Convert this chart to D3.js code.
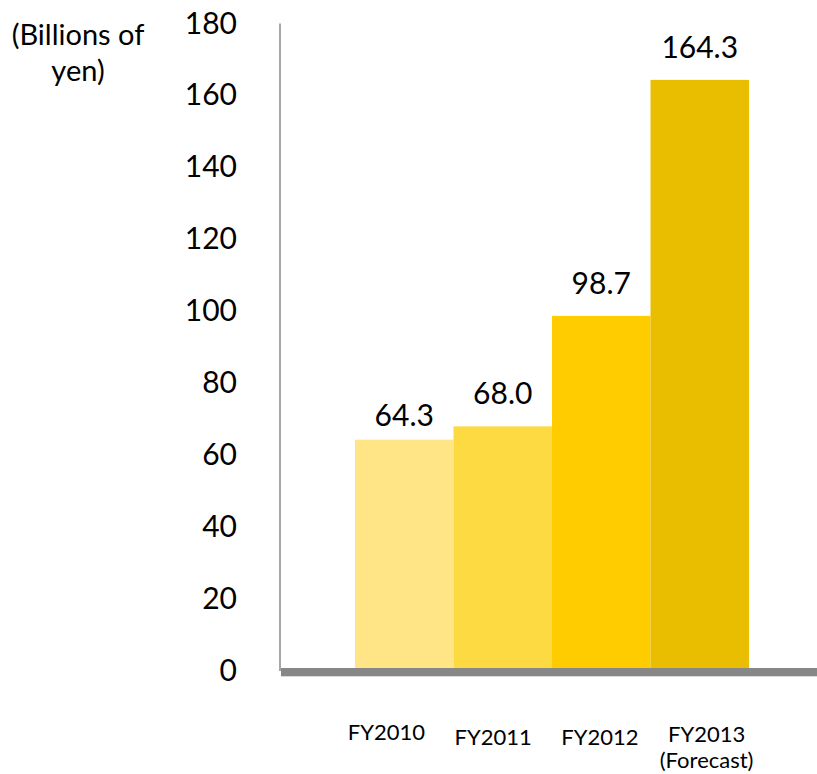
<!DOCTYPE html>
<html>
<head>
<meta charset="utf-8">
<script src="https://cdn.jsdelivr.net/npm/d3@7"></script>
<style>
  html, body { margin: 0; padding: 0; background: #fff; }
  svg text { font-family: Lato, "Open Sans", sans-serif; fill: #000; }
</style>
</head>
<body>
<svg id="chart" width="817" height="774"></svg>
<script>
// Operating income by fiscal year (billions of yen)
const categories = ["FY2010", "FY2011", "FY2012", "FY2013"];
const categoryLines = [["FY2010"], ["FY2011"], ["FY2012"], ["FY2013", "(Forecast)"]];
const values = [64.3, 68.0, 98.7, 164.3];
const valueLabels = ["64.3", "68.0", "98.7", "164.3"];
const barColors = ["#FFE585", "#FDD942", "#FFCC00", "#E9BE00"];
const yTicks = [0, 20, 40, 60, 80, 100, 120, 140, 160, 180];
const unitLines = ["(Billions of", "yen)"];

const svg = d3.select("#chart");

const y = d3.scaleLinear().domain([0, 180]).range([671, 23.4]);
const x = d3.scaleBand().domain(categories).range([355, 749]).padding(0);
// Category captions sit on their own band layout beneath the bars
const xLabel = d3.scaleBand().domain(categories).range([333, 760]).padding(0);

// Bars
svg.append("g").selectAll("rect")
  .data(values)
  .join("rect")
  .attr("x", (d, i) => x(categories[i]))
  .attr("width", x.bandwidth())
  .attr("y", d => y(d))
  .attr("height", d => y(0) - y(d))
  .attr("fill", (d, i) => barColors[i]);

// Value labels above bars; a label that would crowd its taller neighbour's sits a little lower
svg.append("g").selectAll("text")
  .data(values)
  .join("text")
  .attr("x", (d, i) => x(categories[i]) + x.bandwidth() / 2)
  .attr("y", (d, i) => {
    const next = values[i + 1];
    const crowded = next !== undefined && Math.abs(y(next) - y(d)) < 20;
    return y(d) - (crowded ? 14 : 22);
  })
  .attr("text-anchor", "middle")
  .style("font-size", "30px")
  .text((d, i) => valueLabels[i]);

// Vertical axis line
svg.append("line")
  .attr("x1", 280).attr("x2", 280)
  .attr("y1", y(180)).attr("y2", y(0))
  .attr("stroke", "#a6a6a6").attr("stroke-width", 2);

// Baseline band
svg.append("rect")
  .attr("x", 281).attr("y", y(0) - 3)
  .attr("width", 817 - 281).attr("height", 8)
  .attr("fill", "#878787");
svg.append("line")
  .attr("x1", 281).attr("x2", 817)
  .attr("y1", y(0) + 5.5).attr("y2", y(0) + 5.5)
  .attr("stroke", "#d9d9d9").attr("stroke-width", 1);

// Y axis tick labels
const yAxis = d3.axisLeft(y).tickValues(yTicks).tickSize(0).tickPadding(0).tickFormat(d3.format("d"));
const gy = svg.append("g").attr("transform", "translate(237,0)").call(yAxis);
gy.select(".domain").remove();
gy.selectAll("text")
  .style("font-family", "Lato, 'Open Sans', sans-serif")
  .style("font-size", "30px")
  .attr("fill", "#000");

// Unit caption
svg.append("g").selectAll("text")
  .data(unitLines)
  .join("text")
  .attr("x", 78)
  .attr("y", (d, i) => 45 + i * 36)
  .attr("text-anchor", "middle")
  .style("font-size", "29px")
  .text(d => d);

// Category labels
const cat = svg.append("g").selectAll("text")
  .data(categoryLines)
  .join("text")
  .attr("x", (d, i) => xLabel(categories[i]) + xLabel.bandwidth() / 2)
  .attr("y", (d, i) => i === 0 ? 740 : (i === 3 ? 742 : 745))
  .attr("text-anchor", "middle")
  .style("font-size", "22px");
cat.selectAll("tspan")
  .data(d => d)
  .join("tspan")
  .attr("x", function () { return d3.select(this.parentNode).attr("x"); })
  .attr("dy", (d, i) => i === 0 ? 0 : 26)
  .text(d => d);
</script>
</body>
</html>
